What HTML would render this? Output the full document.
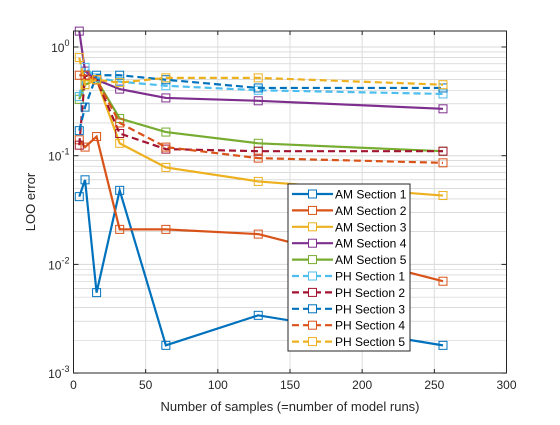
<!DOCTYPE html>
<html><head><meta charset="utf-8"><style>
body{margin:0;background:#fff;font-family:"Liberation Sans",sans-serif}
svg text{font-family:"Liberation Sans",sans-serif}
</style></head><body>
<svg width="560" height="420" id="c">
</svg>
<script>
const xs=[4,8,16,32,64,128,256];
const seriesNames=["AM Section 1","AM Section 2","AM Section 3","AM Section 4","AM Section 5","PH Section 1","PH Section 2","PH Section 3","PH Section 4","PH Section 5"];
const am1=[0.042,0.060,0.0055,0.048,0.0018,0.0034,0.0018];
const am2=[0.14,0.12,0.15,0.021,0.021,0.019,0.007];
const am3=[0.35,0.5,0.5,0.13,0.078,0.058,0.043];
const am4=[1.4,0.6,0.5,0.41,0.34,0.32,0.27];
const am5=[0.33,0.45,0.5,0.22,0.165,0.13,0.11];
const ph1=[0.35,0.65,0.52,0.48,0.44,0.40,0.37];
const ph2=[0.125,0.55,0.5,0.16,0.115,0.11,0.11];
const ph3=[0.17,0.28,0.55,0.55,0.5,0.42,0.42];
const ph4=[0.55,0.55,0.5,0.2,0.12,0.095,0.086];
const ph5=[0.8,0.45,0.5,0.47,0.52,0.52,0.45];
const xTicks=[0,50,100,150,200,250,300];
const yDecades=[-3,-2,-1,0];
const colors=["#0072BD","#D95319","#EDB120","#7E2F8E","#77AC30","#4DBEEE","#A2142F","#0072BD","#D95319","#EDB120"];
const allSeries=[am1,am2,am3,am4,am5,ph1,ph2,ph3,ph4,ph5];
const L=73.5,R=506.5,T=31,B=373,Y0=47,DEC=108.7;
const X=v=>L+(v-0)*(R-L)/300;
const Y=v=>Y0-DEC*Math.log10(v);
const s=document.getElementById('c');const NS="http://www.w3.org/2000/svg";
function el(t,a,p){const e=document.createElementNS(NS,t);for(const k in a)e.setAttribute(k,a[k]);(p||s).appendChild(e);return e;}
el('rect',{x:L,y:T,width:R-L,height:B-T,fill:'#fff'});
// grid
for(let d=-3;d<=0;d++)for(let m=1;m<=9;m++){const v=m*Math.pow(10,d);const y=Y(v);if(y<T||y>B)continue;
const g=el('line',{x1:L,x2:R,y1:y,y2:y,stroke:m==1?'#d8d8d8':'#c8c8c8','stroke-width':m==1?1:0.6});
}
xTicks.forEach(t=>{const x=X(t);const g=el('line',{x1:x,x2:x,y1:T,y2:B,stroke:'#dcdcdc','stroke-width':1});

const tx=el('text',{x:x,y:B+16,'font-size':12,'text-anchor':'middle',fill:'#262626'});tx.textContent=t;

el('line',{x1:x,x2:x,y1:B,y2:B-4,stroke:'#262626'});el('line',{x1:x,x2:x,y1:T,y2:T+4,stroke:'#262626'});});
yDecades.forEach(d=>{const y=Y(Math.pow(10,d));
const tx=el('text',{x:L-4,y:y+5,'font-size':12,'text-anchor':'end',fill:'#262626'});

tx.innerHTML='10<tspan dy="-6" font-size="9">'+d+'</tspan>';
el('line',{x1:L,x2:L+5,y1:y,y2:y,stroke:'#262626'});el('line',{x1:R,x2:R-5,y1:y,y2:y,stroke:'#262626'});});
// series
allSeries.forEach((sv,i)=>{const g=el('g',{});


const pts=xs.map((x,j)=>X(x)+','+Y(sv[j])).join(' ');
el('polyline',{points:pts,fill:'none',stroke:colors[i],'stroke-width':2.2,'stroke-dasharray':i>=5?'7,4':'none'},g);
xs.forEach((x,j)=>{const r=el('rect',{x:X(x)-4,y:Y(sv[j])-4,width:8,height:8,fill:'none',stroke:colors[i],'stroke-width':1},g);
});});
el('rect',{x:L,y:T,width:R-L,height:B-T,fill:'none',stroke:'#262626','stroke-width':1});
// labels
let t=el('text',{x:(L+R)/2,y:411,'font-size':13,'text-anchor':'middle',fill:'#262626'});t.textContent='Number of samples (=number of model runs)';

t=el('text',{x:0,y:0,'font-size':13,'text-anchor':'middle',fill:'#262626',transform:'translate(35,'+((T+B)/2)+') rotate(-90)'});t.textContent='LOO error';

// legend
const lg=el('g',{});
el('rect',{x:288,y:184,width:122,height:167,fill:'#fff',stroke:'#262626','stroke-width':1},lg);
seriesNames.forEach((n,i)=>{const y=194+i*16.4;const e=el('g',{},lg);

el('line',{x1:292,x2:333,y1:y,y2:y,stroke:colors[i],'stroke-width':2.2,'stroke-dasharray':i>=5?'7,4':'none'},e);
el('rect',{x:308.5,y:y-4,width:8,height:8,fill:'#fff',stroke:colors[i],'stroke-width':1},e);
const tx=el('text',{x:335,y:y+4.5,'font-size':12,fill:'#000'},e);tx.textContent=n;});
</script>
</body></html>
